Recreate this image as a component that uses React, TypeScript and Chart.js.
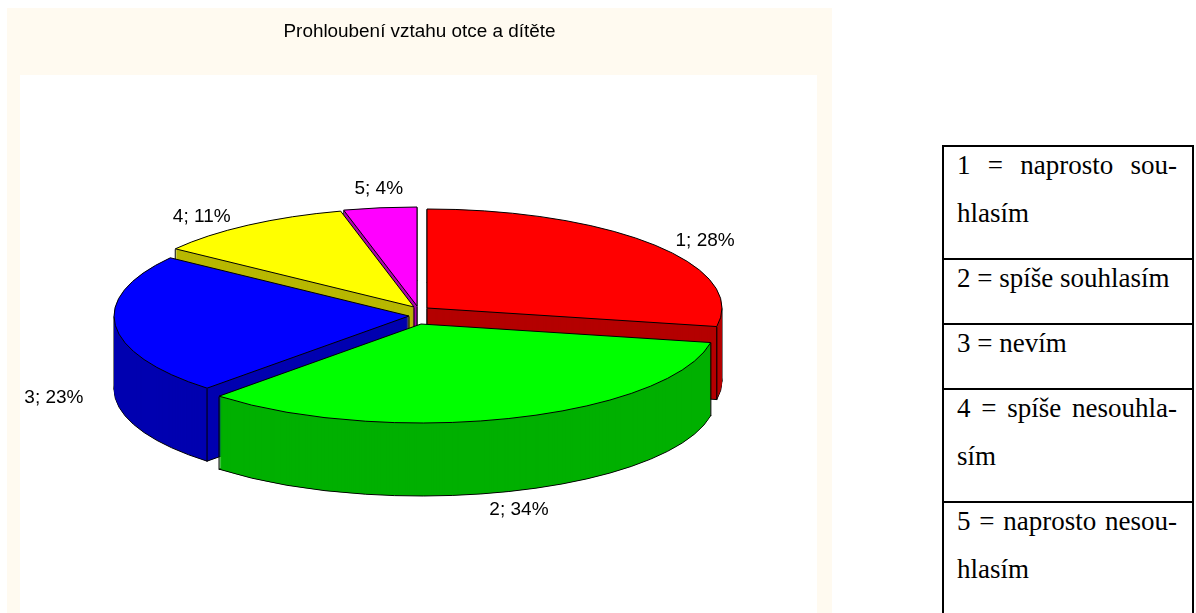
import React, { useEffect, useRef } from "react";
import { Chart, registerables } from "chart.js";

Chart.register(...registerables);

const chartTitle = "Prohloubení vztahu otce a dítěte";
const categories = ["1", "2", "3", "4", "5"];
const values = [28, 34, 23, 11, 4];
const topColors = ["#FF0000", "#00FF00", "#0000FF", "#FFFF00", "#FF00FF"];
const wallColors = ["#B40000", "#00B000", "#0000B0", "#B8B800", "#B000B0"];
const legendRows: string[][] = [
  ["1 = naprosto sou-", "hlasím"],
  ["2 = spíše souhlasím"],
  ["3 = nevím"],
  ["4 = spíše nesouhla-", "sím"],
  ["5 = naprosto nesou-", "hlasím"],
];
const legendRowHeights = [113, 65, 65, 113, 125];

// 3D look of the pie (screen pixels)
const CX = 419;
const CY = 314;
const RX = 295;
const RY = 99;
const DEPTH = 73;
const explode = [[8, -6], [2, 10], [-10, 2], [-5, -7], [-2, -8]];
const labelNudge = [[2, 6], [-14, 5], [2, -1], [-10, 5], [6, -2]];

const pie3d = {
  id: "pie3d",
  beforeDraw(chart: any) {
    const { ctx } = chart;
    ctx.save();
    ctx.fillStyle = "#FFFAF0";
    ctx.fillRect(7, 8, 825, 605);
    ctx.fillStyle = "#FFFFFF";
    ctx.fillRect(20, 75, 797, 538);
    ctx.restore();
  },
  beforeDatasetDraw(chart: any) {
    const { ctx } = chart;
    const arcs: any[] = chart.getDatasetMeta(0).data;
    const centre = (i: number) => [CX + explode[i][0], CY + explode[i][1]];
    const wedge = (i: number, dy: number) => {
      const { startAngle, endAngle } = arcs[i];
      const [x, y] = centre(i);
      ctx.beginPath();
      ctx.moveTo(x, y + dy);
      ctx.ellipse(x, y + dy, RX, RY, 0, startAngle, endAngle);
      ctx.closePath();
    };

    // side walls: stacked layers, bottom first, so upper layers hide what is behind
    ctx.save();
    for (let d = DEPTH; d >= 1; d--) {
      arcs.forEach((arc, i) => {
        wedge(i, d);
        ctx.fillStyle = wallColors[i];
        ctx.fill();
        if (d === DEPTH) {
          ctx.strokeStyle = "#000";
          ctx.lineWidth = 1;
          ctx.stroke();
        }
      });
      ctx.fillStyle = "#000";
      arcs.forEach((arc, i) => {
        const [x, y] = centre(i);
        const pts = [[x, y]];
        for (const a of [arc.startAngle, arc.endAngle]) {
          pts.push([x + RX * Math.cos(a), y + RY * Math.sin(a)]);
        }
        for (const a of [0, Math.PI]) {
          const lo = arc.startAngle;
          const hi = arc.endAngle;
          if (a >= lo && a <= hi) pts.push([x + RX * Math.cos(a), y]);
          else if (a + 2 * Math.PI >= lo && a + 2 * Math.PI <= hi) pts.push([x + RX * Math.cos(a), y]);
        }
        for (const [px, py] of pts) ctx.fillRect(px - 0.6, py + d - 0.5, 1.2, 1);
      });
    }
    ctx.restore();

    // top faces, drawn by the arc elements themselves
    arcs.forEach((arc, i) => {
      const [x, y] = centre(i);
      ctx.save();
      ctx.translate(x, y);
      ctx.scale(RX / arc.outerRadius, RY / arc.outerRadius);
      ctx.translate(-arc.x, -arc.y);
      arc.draw(ctx);
      ctx.restore();
    });

    // outlines at an even line width
    ctx.save();
    ctx.strokeStyle = "#000";
    ctx.lineWidth = 1;
    arcs.forEach((_, i) => {
      wedge(i, 0);
      ctx.stroke();
    });

    // data labels
    ctx.fillStyle = "#000";
    ctx.font = '19px "Liberation Sans", Arial, sans-serif';
    ctx.textAlign = "center";
    ctx.textBaseline = "middle";
    arcs.forEach((arc, i) => {
      const mid = (arc.startAngle + arc.endAngle) / 2;
      const sinA = Math.sin(mid);
      const x = CX + 1.25 * RX * Math.cos(mid) + labelNudge[i][0];
      const y = CY + 1.25 * RY * sinA + (sinA > 0 ? DEPTH : 0) + labelNudge[i][1];
      ctx.fillText(`${categories[i]}; ${values[i]}%`, x, y);
    });
    ctx.restore();
    return false;
  },
};

export default function App() {
  const ref = useRef<HTMLCanvasElement>(null);
  useEffect(() => {
    const chart = new Chart(ref.current as HTMLCanvasElement, {
      type: "pie",
      data: {
        labels: categories,
        datasets: [
          {
            data: values,
            backgroundColor: topColors,
            borderWidth: 0,
            clip: false,
          } as any,
        ],
      },
      options: {
        responsive: false,
        animation: false,
        events: [],
        layout: { padding: { left: 4, top: 0, right: 0, bottom: 0 } },
        plugins: {
          legend: { display: false },
          tooltip: { enabled: false },
          title: {
            display: true,
            text: chartTitle,
            color: "#000",
            font: { family: '"Liberation Sans", Arial, sans-serif', size: 18.9, weight: "normal" },
            padding: { top: 20, bottom: 10 },
          },
        },
      },
      plugins: [pie3d],
    } as any);
    return () => chart.destroy();
  }, []);

  return (
    <div style={{ position: "absolute", left: 0, top: 0, width: 1196, height: 613, overflow: "hidden", background: "#fff" }}>
      <canvas ref={ref} width={835} height={613} style={{ position: "absolute", left: 0, top: 0, display: "block" }} />
      <div
        style={{
          position: "absolute",
          left: 942,
          top: 145,
          width: 248,
          borderLeft: "2px solid #000",
          borderRight: "2px solid #000",
          borderTop: "2px solid #000",
          fontFamily: '"Liberation Serif", "Times New Roman", serif',
          fontSize: 27,
          color: "#000",
        }}
      >
        {legendRows.map((lines, r) => (
          <div
            key={r}
            style={{
              height: legendRowHeights[r] - 2,
              borderBottom: r < legendRows.length - 1 ? "2px solid #000" : "none",
              paddingLeft: 13,
              paddingRight: 15,
              boxSizing: "content-box",
            }}
          >
            {lines.map((line, l) => (
              <div
                key={l}
                style={{
                  position: "relative",
                  top: -5,
                  height: 47.5,
                  lineHeight: "47.5px",
                  whiteSpace: lines.length > 1 && l === 0 ? "normal" : "nowrap",
                  textAlign: l === 0 && lines.length > 1 ? "justify" : "left",
                  textAlignLast: l === 0 && lines.length > 1 ? "justify" : "left",
                }}
              >
                {line}
              </div>
            ))}
          </div>
        ))}
      </div>
    </div>
  );
}
